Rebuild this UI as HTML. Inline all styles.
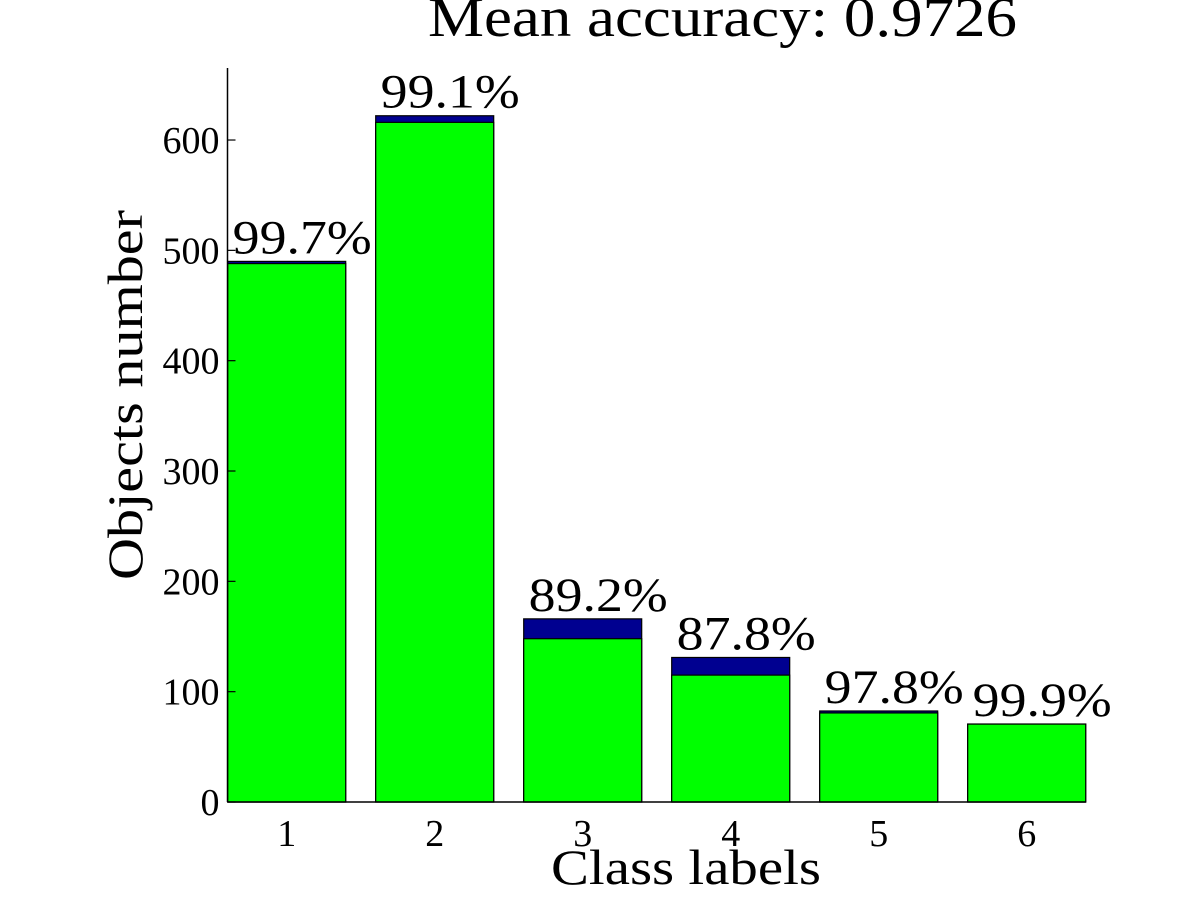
<!DOCTYPE html>
<html><head><meta charset="utf-8"><style>
body{margin:0;background:#fff;width:1201px;height:901px;overflow:hidden}
text{font-family:"Liberation Serif",serif;fill:#000}
</style></head><body>
<svg id="chart" width="1201" height="901" xmlns="http://www.w3.org/2000/svg">
<text x="428" y="36" font-size="56" textLength="589" lengthAdjust="spacingAndGlyphs">Mean accuracy: 0.9726</text>
<text transform="translate(142,395) rotate(-90)" font-size="50" text-anchor="middle" textLength="370" lengthAdjust="spacingAndGlyphs">Objects number</text>
<text x="686" y="884" font-size="50" text-anchor="middle" textLength="270" lengthAdjust="spacingAndGlyphs">Class labels</text>
<g id="plot"></g>
</svg>
<script>
const categories = ["1","2","3","4","5","6"];
const totals = [490, 622, 166, 131, 82.5, 70.7];
const correct = [488, 616, 148, 115, 80.7, 70.6];
const pctLabels = ["99.7%","99.1%","89.2%","87.8%","97.8%","99.9%"];
const yTicks = [0,100,200,300,400,500,600];

const ns="http://www.w3.org/2000/svg";
const g=document.getElementById('plot');
const x0=227.5, unitX=148, y0=802, pxPerUnit=1.1033, yTop=68;
const xPos=i=>x0+unitX*(i+0.4);
const yPos=v=>y0-v*pxPerUnit;
function mk(tag,attrs,parent){const e=document.createElementNS(ns,tag);for(const k in attrs)e.setAttribute(k,attrs[k]);(parent||g).appendChild(e);return e;}

categories.forEach((c,i)=>{
  const cx=xPos(i), w=118;
  const b=mk('rect',{x:cx-w/2,y:yPos(totals[i]),width:w,height:yPos(0)-yPos(totals[i]),fill:'#000090',stroke:'#000','stroke-width':1.2});
  
  
  const gr=mk('rect',{x:cx-w/2,y:yPos(correct[i]),width:w,height:yPos(0)-yPos(correct[i]),fill:'#00ff00',stroke:'#000','stroke-width':1.2});
  
  
  const t=mk('text',{x:cx-w/2+5,y:yPos(totals[i])-8,'font-size':48,textLength:139,lengthAdjust:'spacingAndGlyphs'});
  t.textContent=pctLabels[i];
  
  
  const xl=mk('text',{x:cx,y:846,'font-size':38,'text-anchor':'middle'});
  xl.textContent=c;
  
  
});
const base=mk('line',{x1:x0,y1:y0,x2:x0+unitX*5.8,y2:y0,stroke:'#000','stroke-width':1.5});


const ax=mk('line',{x1:x0,y1:yTop,x2:x0,y2:y0,stroke:'#000','stroke-width':1.5});


yTicks.forEach(v=>{
  const tk=mk('line',{x1:x0,y1:yPos(v),x2:x0+8,y2:yPos(v),stroke:'#000','stroke-width':1.2});
  
  
  const tl=mk('text',{x:x0-8,y:yPos(v)+13,'font-size':38,'text-anchor':'end'});
  tl.textContent=v;
  
  
});
</script>
</body></html>
